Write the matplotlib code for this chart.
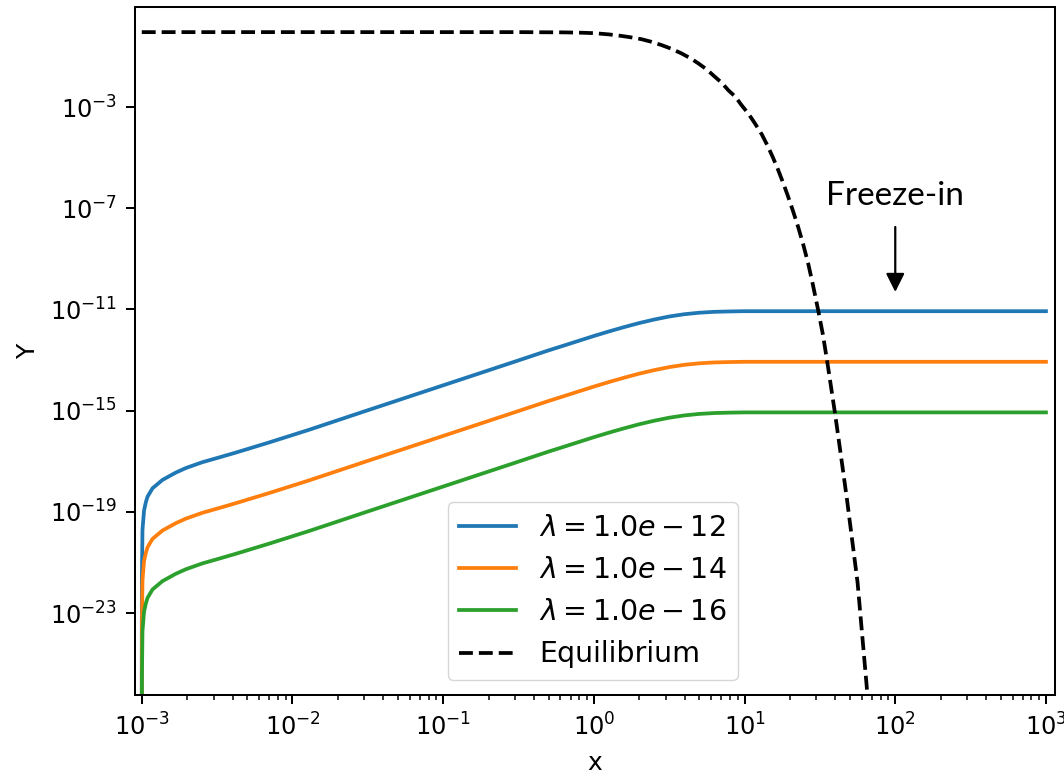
import matplotlib
matplotlib.use("Agg")
import matplotlib.pyplot as plt
import numpy as np

# ---- data ----
# x positions for the three freeze-in curves and their log10(Y) values
x_lambda = [1.000e-3, 1.0002e-3, 1.002e-3, 1.0107e-3, 1.035e-3, 1.064e-3, 1.092e-3,
            1.178e-3, 1.371e-3, 1.68e-3, 1.96e-3, 2.52e-3, 3.26e-3, 4.2e-3,
            6.98e-3, 1.285e-2, 3.0e-2, 1e-1, 0.3, 0.5, 0.631, 0.794, 1.0, 1.259,
            1.585, 1.995, 2.512, 3.162, 3.981, 5.012, 6.310, 7.943, 10.0, 1000.0]
logY_l12 = [-32, -23.5, -21.6, -19.72, -18.95, -18.62, -18.40, -18.07, -17.74,
            -17.45, -17.27, -17.04, -16.85, -16.66, -16.26, -15.76, -15.03, -14.00,
            -13.06, -12.62, -12.43, -12.24, -12.05, -11.87, -11.70, -11.54, -11.40,
            -11.28, -11.19, -11.13, -11.095, -11.08, -11.07, -11.07]
logY_l14 = [-34, -25.5, -23.6, -21.72, -20.95, -20.62, -20.40, -20.07, -19.74,
            -19.45, -19.27, -19.04, -18.85, -18.66, -18.26, -17.76, -17.03, -16.00,
            -15.06, -14.62, -14.43, -14.24, -14.05, -13.87, -13.70, -13.54, -13.40,
            -13.28, -13.19, -13.13, -13.095, -13.08, -13.07, -13.07]
logY_l16 = [-36, -27.5, -25.6, -23.72, -22.95, -22.62, -22.40, -22.07, -21.74,
            -21.45, -21.27, -21.04, -20.85, -20.66, -20.26, -19.76, -19.03, -18.00,
            -17.06, -16.62, -16.43, -16.24, -16.05, -15.87, -15.70, -15.54, -15.40,
            -15.28, -15.19, -15.13, -15.095, -15.08, -15.07, -15.07]

# equilibrium curve: log10(x) and log10(Y)
logx_eq = [-3.0, -0.5, -0.2, -0.1, 0.0, 0.1, 0.183, 0.25, 0.316, 0.38, 0.448,
           0.515, 0.581, 0.64, 0.692, 0.75, 0.802, 0.85, 0.891, 0.94, 0.979,
           1.025, 1.068, 1.115, 1.156, 1.19, 1.223, 1.256, 1.289, 1.322, 1.355,
           1.39, 1.422, 1.455, 1.488, 1.52, 1.55, 1.60, 1.64, 1.68, 1.75, 1.815,
           1.87]
logY_eq = [-0.04, -0.04, -0.05, -0.06, -0.08, -0.13, -0.19, -0.25, -0.32, -0.42,
           -0.55, -0.70, -0.88, -1.07, -1.27, -1.52, -1.80, -2.05, -2.33, -2.60,
           -2.92, -3.26, -3.64, -4.09, -4.57, -5.02, -5.49, -6.00, -6.54, -7.12,
           -7.73, -8.45, -9.18, -10.07, -11.02, -12.0, -13.12, -15.1, -16.8,
           -18.53, -21.8, -26.2, -29.0]

labels = [r'$\lambda = 1.0e-12$', r'$\lambda = 1.0e-14$', r'$\lambda = 1.0e-16$',
          'Equilibrium']
colors = ['#1f77b4', '#ff7f0e', '#2ca02c']
yticks = [1e-3, 1e-7, 1e-11, 1e-15, 1e-19, 1e-23]

fs_tick = 17.3
fs_label = 18.0
fs_legend = 20.5
plt.rcParams.update({
    'font.size': fs_tick,
    'axes.linewidth': 1.45,
    'xtick.major.size': 6.5, 'ytick.major.size': 6.5,
    'xtick.minor.size': 3.7, 'ytick.minor.size': 3.7,
    'xtick.major.width': 1.45, 'ytick.major.width': 1.45,
    'xtick.minor.width': 1.1,
    'xtick.major.pad': 6.5, 'ytick.major.pad': 6.5,
    'xtick.labelsize': fs_tick, 'ytick.labelsize': fs_tick,
    'axes.labelpad': 7.4,
})

fig = plt.figure(figsize=(10.64, 7.77), dpi=100)
ax = fig.add_axes([135/1064, 1 - 695/777, (1055-135)/1064, (695-7)/777])

for logy, c, lab in zip([logY_l12, logY_l14, logY_l16], colors, labels[:3]):
    ax.plot(x_lambda, 10.0**np.array(logy, dtype=float), color=c, lw=2.7, label=lab)
ax.plot(10.0**np.array(logx_eq), 10.0**np.array(logY_eq), color='black',
        ls='--', lw=2.7, label=labels[3])

ax.set_xscale('log')
ax.set_yscale('log')
ax.set_xlim(10**-3.045, 10**3.06)
ax.set_ylim(10**-26.24, 10**0.953)
ax.set_yticks(yticks)
ax.yaxis.set_minor_locator(matplotlib.ticker.NullLocator())
ax.set_xlabel('x', fontsize=fs_label)
ax.set_ylabel('Y', fontsize=fs_label)

ax.legend(loc='lower left', bbox_to_anchor=(0.340, 0.022), borderaxespad=0,
          fontsize=fs_legend)

ax.annotate('', xy=(100, 10**-10.31), xytext=(100, 10**-7.74),
            arrowprops=dict(arrowstyle='-|>', color='black', lw=1.6,
                            mutation_scale=28, shrinkA=0, shrinkB=0))
ax.text(100, 10**-6.5, 'Freeze-in', ha='center', va='center',
        fontsize=24, family=['Lato', 'DejaVu Sans'])

fig.savefig('out.png', dpi=100)
